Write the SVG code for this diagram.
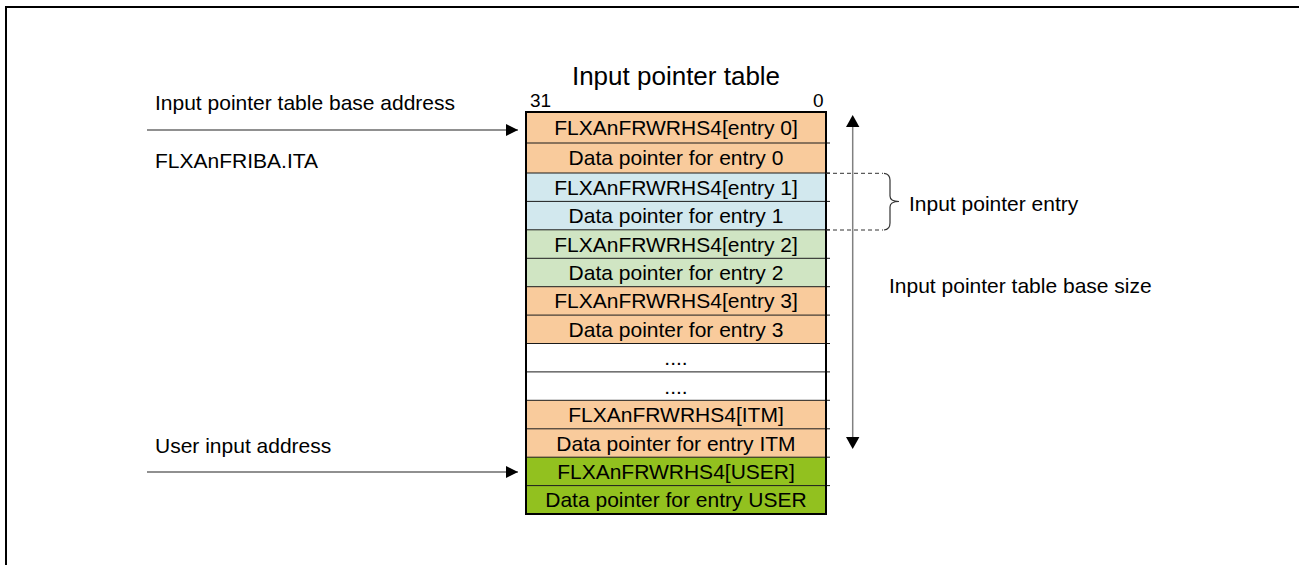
<svg xmlns="http://www.w3.org/2000/svg" width="1299" height="565" viewBox="0 0 1299 565">
<defs>
<style>
text{font-family:"Liberation Sans",Arial,sans-serif;font-size:21px;fill:#000}
.c{text-anchor:middle}
.or{fill:#F9CB9C}
.bl{fill:#D2E8EE}
.gr{fill:#D0E5C3}
.ug{fill:#92C11F}
.wh{fill:#FFFFFF}
.sep{stroke:#1a1a1a;stroke-width:1}
.dash{stroke:#333;stroke-width:1;stroke-dasharray:4,3;fill:none}
.arr{stroke:#222;stroke-width:1.2;fill:none}
.varr{stroke:#808080;stroke-width:1.5;fill:none}
</style>
<marker id="ah" viewBox="0 0 12 12" refX="12" refY="6" markerWidth="12" markerHeight="12" markerUnits="userSpaceOnUse" orient="auto">
<path d="M0,0 L12,6 L0,12 Z" fill="#000"/>
</marker>
</defs>
<rect width="1299" height="565" fill="#fff"/>
<path d="M6,565 V7 H1299" fill="none" stroke="#000" stroke-width="2"/>

<text class="c" x="676" y="85" style="font-size:26px">Input pointer table</text>
<text x="530" y="107" style="font-size:19px">31</text>
<text x="813" y="107" style="font-size:19px">0</text>

<g id="row0"><rect class="or" x="526" y="112" width="300" height="31"/><text class="c" x="676" y="135">FLXAnFRWRHS4[entry 0]</text></g>
<g id="row1"><rect class="or" x="526" y="143" width="300" height="30"/><text class="c" x="676" y="165">Data pointer for entry 0</text></g>
<g id="row2"><rect class="bl" x="526" y="173" width="300" height="28.4"/><text class="c" x="676" y="194.7">FLXAnFRWRHS4[entry 1]</text></g>
<g id="row3"><rect class="bl" x="526" y="201.4" width="300" height="28.4"/><text class="c" x="676" y="223.1">Data pointer for entry 1</text></g>
<g id="row4"><rect class="gr" x="526" y="229.8" width="300" height="28.5"/><text class="c" x="676" y="251.5">FLXAnFRWRHS4[entry 2]</text></g>
<g id="row5"><rect class="gr" x="526" y="258.3" width="300" height="28.4"/><text class="c" x="676" y="280">Data pointer for entry 2</text></g>
<g id="row6"><rect class="or" x="526" y="286.7" width="300" height="28.4"/><text class="c" x="676" y="308.4">FLXAnFRWRHS4[entry 3]</text></g>
<g id="row7"><rect class="or" x="526" y="315.1" width="300" height="28.4"/><text class="c" x="676" y="336.8">Data pointer for entry 3</text></g>
<g id="row8"><rect class="wh" x="526" y="343.5" width="300" height="28.4"/><text class="c" x="676" y="365.2">....</text></g>
<g id="row9"><rect class="wh" x="526" y="371.9" width="300" height="28.4"/><text class="c" x="676" y="393.6">....</text></g>
<g id="row10"><rect class="or" x="526" y="400.3" width="300" height="28.5"/><text class="c" x="676" y="422">FLXAnFRWRHS4[ITM]</text></g>
<g id="row11"><rect class="or" x="526" y="428.8" width="300" height="28.4"/><text class="c" x="676" y="450.5">Data pointer for entry ITM</text></g>
<g id="row12"><rect class="ug" x="526" y="457.2" width="300" height="28.4"/><text class="c" x="676" y="478.9">FLXAnFRWRHS4[USER]</text></g>
<g id="row13"><rect class="ug" x="526" y="485.6" width="300" height="28.4"/><text class="c" x="676" y="507.3">Data pointer for entry USER</text></g>

<g id="separators">
<path class="sep" d="M526,143H830M526,173H830M526,201.4H830M526,229.8H830M526,258.3H830M526,286.7H830M526,315.1H830M526,343.5H830M526,371.9H830M526,400.3H830M526,428.8H830M526,457.2H830M526,485.6H830"/>
<rect x="526" y="112" width="300" height="402" fill="none" stroke="#000" stroke-width="2"/>
</g>

<g id="label-base-address"><text x="155" y="110">Input pointer table base address</text></g>
<g id="label-friba"><text x="155" y="168">FLXAnFRIBA.ITA</text></g>
<g id="label-user"><text x="155" y="453">User input address</text></g>
<g id="label-entry"><text x="909" y="211">Input pointer entry</text></g>
<g id="label-size"><text x="889" y="293">Input pointer table base size</text></g>

<g id="connectors">
<line class="arr" x1="147" y1="130" x2="518" y2="130" marker-end="url(#ah)"/>
<line class="arr" x1="147" y1="472" x2="518" y2="472" marker-end="url(#ah)"/>
<line class="varr" x1="852.7" y1="127" x2="852.7" y2="437"/>
<path d="M852.7,115 L859.4,127 L846,127 Z" fill="#000"/>
<path d="M852.7,449 L859.4,437 L846,437 Z" fill="#000"/>
<path class="dash" d="M826,173.3H883M826,230H883"/>
<path d="M884,173.3 Q890,174 890,180 V196 Q890,201.5 899,201.5 Q890,201.5 890,207 V223 Q890,229.5 884,230" fill="none" stroke="#333" stroke-width="1.2"/>
</g>
</svg>
